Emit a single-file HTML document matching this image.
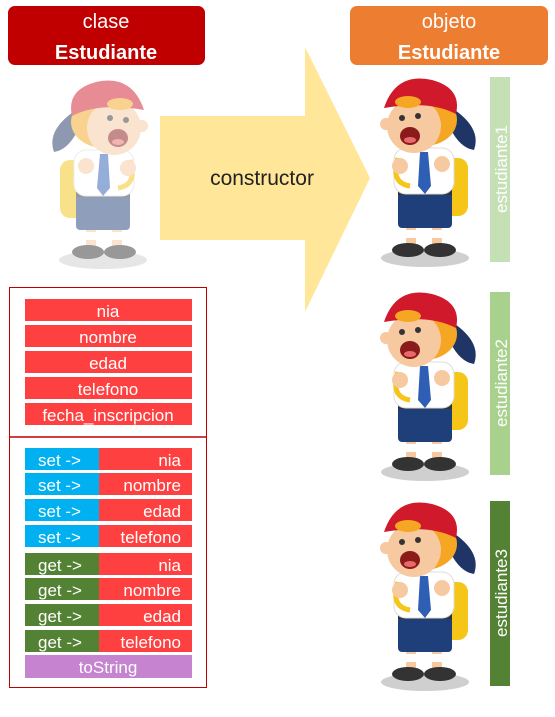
<!DOCTYPE html>
<html><head><meta charset="utf-8"><style>
body{margin:0;width:555px;height:712px;background:#fff;overflow:hidden;font-family:"Liberation Sans",sans-serif}
</style></head><body>
<svg width="555" height="712" viewBox="0 0 555 712" xmlns="http://www.w3.org/2000/svg" font-family="Liberation Sans, sans-serif">
<defs>
<g id="boy">
 <ellipse cx="55" cy="180" rx="44" ry="9" fill="#cfcfcf"/>
 <path d="M82 30 Q112 50 104 72 Q90 70 80 50Z" fill="#1F3566"/>
 <rect x="62" y="80" width="36" height="58" rx="10" fill="#F5C518"/>
 <rect x="36" y="140" width="10" height="28" fill="#F7C9A0"/>
 <rect x="62" y="140" width="10" height="28" fill="#F7C9A0"/>
 <rect x="35" y="152" width="12" height="8" fill="#fff"/>
 <rect x="61" y="152" width="12" height="8" fill="#fff"/>
 <ellipse cx="38" cy="172" rx="16" ry="7" fill="#333"/>
 <ellipse cx="70" cy="172" rx="16" ry="7" fill="#333"/>
 <rect x="28" y="112" width="54" height="38" rx="4" fill="#1F3F7A"/>
 <rect x="28" y="112" width="54" height="5" fill="#333"/>
 <rect x="24" y="70" width="60" height="46" rx="12" fill="#fff" stroke="#ddd"/>
 <polygon points="50,74 58,74 61,108 55,116 48,108" fill="#2E5FB5"/>
 <path d="M28 80 Q20 105 40 108" stroke="#F5C518" stroke-width="5" fill="none"/>
 <circle cx="30" cy="88" r="8" fill="#F7C9A0"/>
 <circle cx="72" cy="86" r="8" fill="#F7C9A0"/>
 <ellipse cx="54" cy="42" rx="33" ry="26" fill="#F5A623"/>
 <ellipse cx="44" cy="48" rx="27" ry="27" fill="#F7C9A0"/>
 <circle cx="16" cy="46" r="6" fill="#F7C9A0"/>
 <ellipse cx="40" cy="58" rx="10" ry="9" fill="#8B1A1A"/>
 <ellipse cx="40" cy="62" rx="6" ry="3" fill="#E96A6A"/>
 <circle cx="32" cy="40" r="3" fill="#333"/>
 <circle cx="48" cy="38" r="3" fill="#333"/>
 <path d="M14 30 Q26 -6 62 2 Q92 10 86 36 Q60 22 14 30Z" fill="#D0192B"/>
 <ellipse cx="38" cy="24" rx="13" ry="6" fill="#F5A623"/>
</g>
</defs>
<rect x="8" y="6" width="197" height="59" rx="7" fill="#C00000"/>
<text x="106" y="28" fill="#fff" font-size="20" text-anchor="middle">clase</text>
<text x="106" y="59" fill="#fff" font-size="20" font-weight="bold" text-anchor="middle">Estudiante</text>
<rect x="350" y="6" width="198" height="59" rx="7" fill="#ED7D31"/>
<text x="449" y="28" fill="#fff" font-size="20" text-anchor="middle">objeto</text>
<text x="449" y="59" fill="#fff" font-size="20" font-weight="bold" text-anchor="middle">Estudiante</text>
<polygon points="160,116 305,116 305,47 370,178 305,312 305,240 160,240" fill="#FFE699"/>
<text x="262" y="185" fill="#222" font-size="21" text-anchor="middle">constructor</text>
<g opacity="0.5" transform="translate(158,80) scale(-1,1)"><use href="#boy"/></g>
<use href="#boy" transform="translate(370,78)"/>
<use href="#boy" transform="translate(370,292)"/>
<use href="#boy" transform="translate(370,502)"/>
<rect x="490" y="77" width="20" height="185" fill="#C5E0B4"/>
<text transform="translate(507,169) rotate(-90)" fill="#fff" font-size="17" text-anchor="middle">estudiante1</text>
<rect x="490" y="292" width="20" height="183" fill="#A9D18E"/>
<text transform="translate(507,383) rotate(-90)" fill="#fff" font-size="17" text-anchor="middle">estudiante2</text>
<rect x="490" y="501" width="20" height="185" fill="#548235"/>
<text transform="translate(507,593) rotate(-90)" fill="#fff" font-size="17" text-anchor="middle">estudiante3</text>
<rect x="9.5" y="287.5" width="197" height="400" fill="none" stroke="#C00000"/>
<line x1="9" y1="437" x2="207" y2="437" stroke="#C00000" stroke-width="1.5"/>
<g font-size="17" fill="#fff" text-anchor="middle">
<rect x="25" y="299" width="167" height="22" fill="#FF4040"/><text x="108" y="317">nia</text>
<rect x="25" y="325" width="167" height="22" fill="#FF4040"/><text x="108" y="343">nombre</text>
<rect x="25" y="351" width="167" height="22" fill="#FF4040"/><text x="108" y="369">edad</text>
<rect x="25" y="377" width="167" height="22" fill="#FF4040"/><text x="108" y="395">telefono</text>
<rect x="25" y="403" width="167" height="22" fill="#FF4040"/><text x="108" y="421">fecha_inscripcion</text>
</g>
<g font-size="17" fill="#fff">
<rect x="25" y="448" width="74" height="22" fill="#00B0F0"/><rect x="99" y="448" width="93" height="22" fill="#FF4040"/><text x="38" y="466">set -&gt;</text><text x="181" y="466" text-anchor="end">nia</text>
<rect x="25" y="473" width="74" height="22" fill="#00B0F0"/><rect x="99" y="473" width="93" height="22" fill="#FF4040"/><text x="38" y="491">set -&gt;</text><text x="181" y="491" text-anchor="end">nombre</text>
<rect x="25" y="499" width="74" height="22" fill="#00B0F0"/><rect x="99" y="499" width="93" height="22" fill="#FF4040"/><text x="38" y="517">set -&gt;</text><text x="181" y="517" text-anchor="end">edad</text>
<rect x="25" y="525" width="74" height="22" fill="#00B0F0"/><rect x="99" y="525" width="93" height="22" fill="#FF4040"/><text x="38" y="543">set -&gt;</text><text x="181" y="543" text-anchor="end">telefono</text>
<rect x="25" y="553" width="74" height="22" fill="#548235"/><rect x="99" y="553" width="93" height="22" fill="#FF4040"/><text x="38" y="571">get -&gt;</text><text x="181" y="571" text-anchor="end">nia</text>
<rect x="25" y="578" width="74" height="22" fill="#548235"/><rect x="99" y="578" width="93" height="22" fill="#FF4040"/><text x="38" y="596">get -&gt;</text><text x="181" y="596" text-anchor="end">nombre</text>
<rect x="25" y="604" width="74" height="22" fill="#548235"/><rect x="99" y="604" width="93" height="22" fill="#FF4040"/><text x="38" y="622">get -&gt;</text><text x="181" y="622" text-anchor="end">edad</text>
<rect x="25" y="630" width="74" height="22" fill="#548235"/><rect x="99" y="630" width="93" height="22" fill="#FF4040"/><text x="38" y="648">get -&gt;</text><text x="181" y="648" text-anchor="end">telefono</text>
<rect x="25" y="655" width="167" height="23" fill="#C583D0"/><text x="108" y="673" text-anchor="middle">toString</text>
</g>
</svg>
</body></html>
